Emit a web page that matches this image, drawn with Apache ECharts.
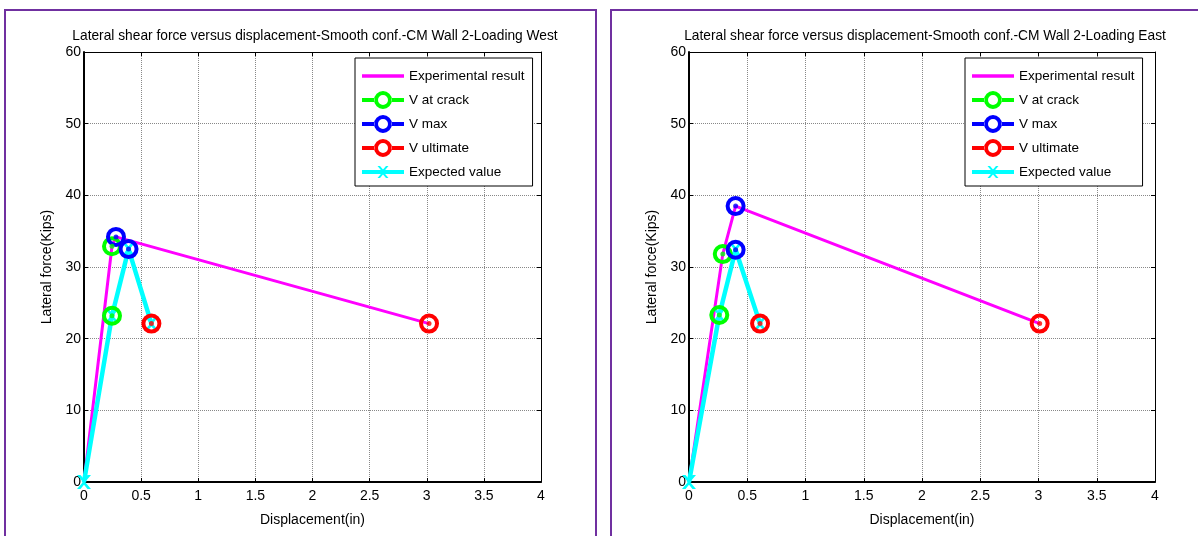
<!DOCTYPE html>
<html><head><meta charset="utf-8">
<script src="https://cdn.jsdelivr.net/npm/echarts@6/dist/echarts.min.js"></script>
<style>html,body{margin:0;padding:0;background:#fff}#c{width:1198px;height:536px}</style>
</head><body><div id="c"></div>
<script>
// ---- data ----
const titles = ['Lateral shear force versus displacement-Smooth conf.-CM Wall 2-Loading West',
                'Lateral shear force versus displacement-Smooth conf.-CM Wall 2-Loading East'];
const xTicks = [0, 0.5, 1, 1.5, 2, 2.5, 3, 3.5, 4];
const yTicks = [0, 10, 20, 30, 40, 50, 60];
// West
const westExp = [[0, 0], [0.245, 32.9], [0.28, 34.2], [3.02, 22.1]];
const westCrack = [[0.245, 32.9], [0.245, 23.2]];
const westMax = [[0.28, 34.2], [0.39, 32.5]];
const westUlt = [[0.59, 22.1], [3.02, 22.1]];
const westExpected = [[0, 0], [0.245, 23.2], [0.39, 32.5], [0.59, 22.1]];
// East
const eastExp = [[0, 0], [0.29, 31.8], [0.40, 38.5], [3.01, 22.1]];
const eastCrack = [[0.29, 31.8], [0.26, 23.3]];
const eastMax = [[0.40, 38.5], [0.40, 32.4]];
const eastUlt = [[0.61, 22.1], [3.01, 22.1]];
const eastExpected = [[0, 0], [0.26, 23.3], [0.40, 32.4], [0.61, 22.1]];

const names = ['Experimental result', 'V at crack', 'V max', 'V ultimate', 'Expected value'];
const C = {exp: '#ff00ff', crack: '#00ff00', max: '#0000ff', ult: '#ff0000', expd: '#00ffff'};
const FONT = 'Liberation Sans, Arial, sans-serif';
const XPATH = 'path://M0,0 L2.5,0 L5,3 L7.5,0 L10,0 L6.2,4.5 L6.2,5.5 L10,10 L7.5,10 L5,7 L2.5,10 L0,10 L3.8,5.5 L3.8,4.5 Z';

const ICON_LINE = 'path://M0,0 L42,0 L42,3.5 L0,3.5 Z';
const ICON_RING = 'path://M0,7 L12.5,7 L12.5,11 L0,11 Z M29.5,7 L42,7 L42,11 L29.5,11 Z ' +
  'M12,9 A9,9 0 1,0 30,9 A9,9 0 1,0 12,9 Z M16,9 A5,5 0 1,1 26,9 A5,5 0 1,1 16,9 Z';
const ICON_X = 'path://M0,7 L42,7 L42,11 L0,11 Z ' +
  'M15.5,3 L18,3 L21,6.5 L24,3 L26.5,3 L22.3,8 L22.3,10 L26.5,15 L24,15 L21,11.5 L18,15 L15.5,15 L19.7,10 L19.7,8 Z';

const grids = [
  {left: 84, top: 52, width: 457, height: 430},
  {left: 689, top: 52, width: 466, height: 430}
];

function xAxes(gi) {
  return [{
    type: 'value', gridIndex: gi, min: 0, max: 4, interval: 0.5, position: 'bottom',
    name: 'Displacement(in)', nameLocation: 'middle', nameGap: 31,
    nameTextStyle: {color: '#000', fontSize: 14, fontFamily: FONT},
    axisLine: {show: true, onZero: false, lineStyle: {color: '#000', width: 2}},
    axisTick: {show: true, inside: true, length: 4, lineStyle: {color: '#000'}},
    axisLabel: {color: '#000', fontSize: 14, fontFamily: FONT, margin: 7,
      formatter: v => String(v)},
    splitLine: {show: true, lineStyle: {color: '#888', type: [1, 1], width: 1}}
  }, {
    type: 'value', gridIndex: gi, min: 0, max: 4, interval: 0.5, position: 'top',
    axisLine: {show: true, onZero: false, lineStyle: {color: '#000', width: 1}},
    axisTick: {show: true, inside: true, length: 4, lineStyle: {color: '#000'}},
    axisLabel: {show: false}, splitLine: {show: false}
  }];
}
function yAxes(gi) {
  return [{
    type: 'value', gridIndex: gi, min: 0, max: 60, interval: 10, position: 'left',
    name: 'Lateral force(Kips)', nameLocation: 'middle', nameGap: 30,
    nameTextStyle: {color: '#000', fontSize: 14, fontFamily: FONT},
    axisLine: {show: true, onZero: false, lineStyle: {color: '#000', width: 2}},
    axisTick: {show: true, inside: true, length: 4, lineStyle: {color: '#000'}},
    axisLabel: {color: '#000', fontSize: 14, fontFamily: FONT, margin: 3},
    splitLine: {show: true, lineStyle: {color: '#888', type: [1, 1], width: 1}}
  }, {
    type: 'value', gridIndex: gi, min: 0, max: 60, interval: 10, position: 'right',
    axisLine: {show: true, onZero: false, lineStyle: {color: '#000', width: 1}},
    axisTick: {show: true, inside: true, length: 4, lineStyle: {color: '#000'}},
    axisLabel: {show: false}, splitLine: {show: false}
  }];
}

function panelSeries(ai, exp, crack, max, ult, expd) {
  const s = [];
  s.push({name: names[0], type: 'line', xAxisIndex: ai, yAxisIndex: ai, data: exp,
    showSymbol: false, symbol: 'none', lineStyle: {color: C.exp, width: 3}, itemStyle: {color: C.exp},
    z: 2, animation: false});
  s.push({name: names[4], type: 'line', xAxisIndex: ai, yAxisIndex: ai, data: expd,
    symbol: XPATH, symbolSize: 14, lineStyle: {color: C.expd, width: 4.5},
    itemStyle: {color: C.expd}, z: 3, animation: false});
  const groups = [[names[1], crack, C.crack], [names[2], max, C.max], [names[3], ult, C.ult]];
  groups.forEach(([nm, pts, col]) => {
    s.push({name: nm, type: 'scatter', xAxisIndex: ai, yAxisIndex: ai, data: pts,
      symbol: 'circle', symbolSize: 16,
      itemStyle: {color: 'rgba(0,0,0,0)', borderColor: col, borderWidth: 4, opacity: 1},
      z: 4, animation: false});
    s.push({name: nm + ' dot', type: 'scatter', xAxisIndex: ai, yAxisIndex: ai, data: pts,
      symbol: 'circle', symbolSize: 5, itemStyle: {color: col}, z: 5, animation: false,
      silent: true});
  });
  return s;
}

const chart = echarts.init(document.getElementById('c'), null, {renderer: 'canvas'});
const series = [].concat(
  panelSeries(0, westExp, westCrack, westMax, westUlt, westExpected),
  panelSeries(2, eastExp, eastCrack, eastMax, eastUlt, eastExpected)
);

function legend(left) {
  const icons = [ICON_LINE, ICON_RING, ICON_RING, ICON_RING, ICON_X];
  const cols = [C.exp, C.crack, C.max, C.ult, C.expd];
  return {
    left: left, top: 58, orient: 'vertical',
    data: names.map((n, i) => ({name: n, icon: icons[i],
      itemStyle: {color: cols[i], borderWidth: 0, opacity: 1}})),
    itemWidth: 42, itemHeight: 18, itemGap: 6, padding: [9, 8, 5, 7],
    backgroundColor: '#fff', borderColor: '#000', borderWidth: 1, borderRadius: 0,
    textStyle: {color: '#000', fontSize: 13.5, fontFamily: FONT, padding: [0, 0, 0, 0], lineHeight: 18},
    selectedMode: false
  };
}

chart.setOption({
  animation: false,
  backgroundColor: '#fff',
  title: [
    {text: titles[0], left: 310, top: 24, textAlign: 'center',
      textStyle: {color: '#000', fontSize: 13.75, fontWeight: 'normal', fontFamily: FONT}},
    {text: titles[1], left: 920, top: 24, textAlign: 'center',
      textStyle: {color: '#000', fontSize: 13.75, fontWeight: 'normal', fontFamily: FONT}}
  ],
  legend: [legend(355), legend(965)],
  grid: grids,
  xAxis: [].concat(xAxes(0), xAxes(1)),
  yAxis: [].concat(yAxes(0), yAxes(1)),
  series: series,
  graphic: [
    {type: 'rect', shape: {x: 5, y: 10, width: 591, height: 560}, style: {fill: 'none', stroke: '#7030a0', lineWidth: 2}, z: 100, silent: true},
    {type: 'rect', shape: {x: 611, y: 10, width: 600, height: 560}, style: {fill: 'none', stroke: '#7030a0', lineWidth: 2}, z: 100, silent: true}
  ]
});
</script></body></html>
